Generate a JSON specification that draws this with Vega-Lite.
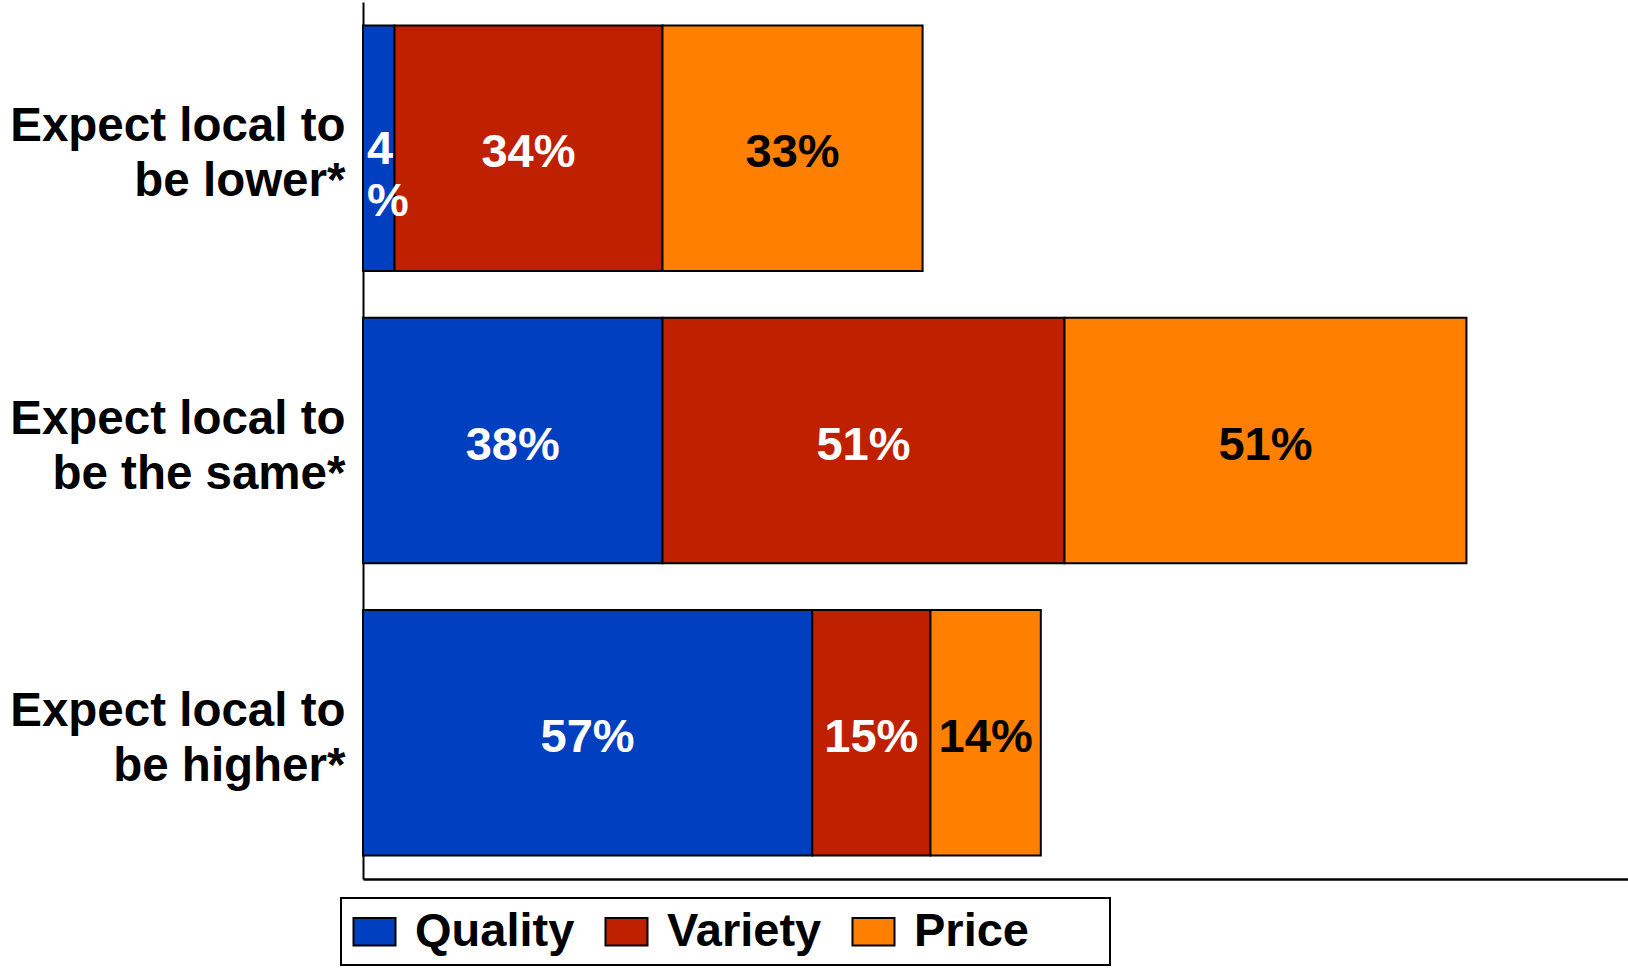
{
  "$schema": "https://vega.github.io/schema/vega-lite/v6.json",
  "autosize": "none",
  "width": 1265,
  "height": 877,
  "padding": {"left": 363, "top": 2, "right": 0, "bottom": 91},
  "background": "white",
  "config": {
    "view": {"stroke": null},
    "font": "Liberation Sans",
    "legend": {"strokeWidth": 2}
  },
  "data": {
    "values": [
      {"group": "Expect local to be lower*", "series": "Quality", "value": 4},
      {"group": "Expect local to be lower*", "series": "Variety", "value": 34},
      {"group": "Expect local to be lower*", "series": "Price", "value": 33},
      {"group": "Expect local to be the same*", "series": "Quality", "value": 38},
      {"group": "Expect local to be the same*", "series": "Variety", "value": 51},
      {"group": "Expect local to be the same*", "series": "Price", "value": 51},
      {"group": "Expect local to be higher*", "series": "Quality", "value": 57},
      {"group": "Expect local to be higher*", "series": "Variety", "value": 15},
      {"group": "Expect local to be higher*", "series": "Price", "value": 14}
    ]
  },
  "transform": [
    {"calculate": "indexof(['Quality','Variety','Price'], datum.series)", "as": "rank"},
    {"stack": "value", "groupby": ["group"], "sort": [{"field": "rank", "order": "ascending"}], "as": ["x0", "x1"]},
    {"calculate": "(datum.x0 + datum.x1) / 2", "as": "xmid"},
    {"calculate": "datum.value < 10 ? datum.value + '\\n%' : datum.value + '%'", "as": "label"}
  ],
  "encoding": {
    "y": {
      "field": "group",
      "type": "nominal",
      "sort": ["Expect local to be lower*", "Expect local to be the same*", "Expect local to be higher*"],
      "scale": {"paddingInner": 0.16, "paddingOuter": 0.08},
      "axis": {
        "title": null,
        "ticks": false,
        "domain": true,
        "domainColor": "black",
        "domainWidth": 2,
        "labelExpr": "[slice(datum.label, 0, 15), slice(datum.label, 16)]",
        "labelFont": "Liberation Sans",
        "labelFontSize": 47.5,
        "labelFontWeight": "bold",
        "labelColor": "black",
        "labelAlign": "right",
        "labelBaseline": "middle",
        "labelLineHeight": 55,
        "labelOffset": -21,
        "labelPadding": 18,
        "labelLimit": 0
      }
    }
  },
  "layer": [
    {
      "mark": {"type": "bar", "stroke": "black", "strokeWidth": 2},
      "encoding": {
        "x": {
          "field": "x0",
          "type": "quantitative",
          "scale": {"domain": [0, 160.5], "nice": false, "zero": true},
          "axis": {
            "title": null,
            "labels": false,
            "ticks": false,
            "grid": false,
            "domain": true,
            "domainColor": "black",
            "domainWidth": 2.5
          }
        },
        "x2": {"field": "x1"},
        "color": {
          "field": "series",
          "type": "nominal",
          "scale": {"domain": ["Quality", "Variety", "Price"], "range": ["#0040C0", "#BF2000", "#FF8000"]},
          "legend": {
            "title": "\u00a0",
            "titleOrient": "right",
            "titleFontSize": 10,
            "titlePadding": 71,
            "orient": "none",
            "legendX": -22,
            "legendY": 896,
            "direction": "horizontal",
            "symbolType": "M-1,-0.65H1V0.65H-1Z",
            "symbolSize": 1764,
            "symbolStrokeColor": "black",
            "symbolStrokeWidth": 2,
            "labelFont": "Liberation Sans",
            "labelFontSize": 47,
            "labelFontWeight": "bold",
            "labelColor": "black",
            "labelOffset": 17,
            "columnPadding": 26,
            "padding": 10,
            "strokeColor": "black",
            "labelLimit": 0
          }
        }
      }
    },
    {
      "transform": [{"filter": "datum.value >= 10"}],
      "mark": {"type": "text", "font": "Liberation Sans", "fontSize": 47, "fontWeight": "bold", "align": "center", "baseline": "middle", "dy": 5},
      "encoding": {
        "x": {"field": "xmid", "type": "quantitative"},
        "text": {"field": "label"},
        "color": {"condition": {"test": "datum.series === 'Price'", "value": "black"}, "value": "white"}
      }
    },
    {
      "transform": [{"filter": "datum.value < 10"}],
      "mark": {"type": "text", "font": "Liberation Sans", "fontSize": 47, "fontWeight": "bold", "align": "left", "baseline": "middle", "lineBreak": "\n", "lineHeight": 52, "dy": 2, "dx": 4},
      "encoding": {
        "x": {"field": "x0", "type": "quantitative"},
        "text": {"field": "label"},
        "color": {"value": "white"}
      }
    }
  ]
}
